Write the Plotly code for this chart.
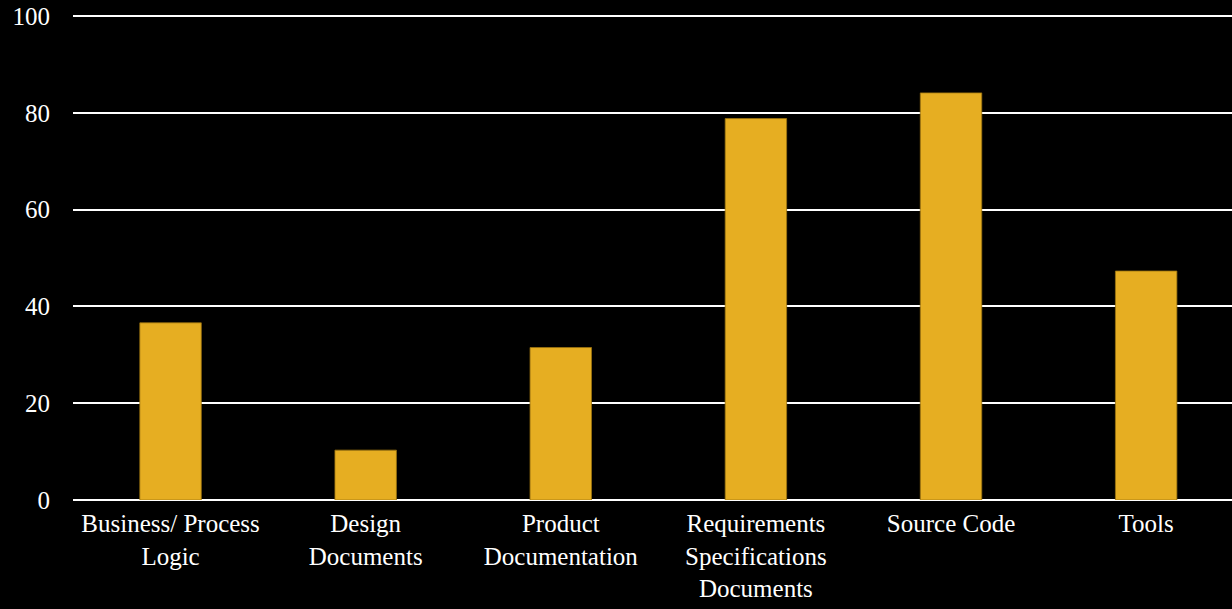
import plotly.graph_objects as go

categories = ["Business/ Process<br>Logic", "Design<br>Documents", "Product<br>Documentation",
              "Requirements<br>Specifications<br>Documents", "Source Code", "Tools"]
values = [36.6, 10.3, 31.5, 78.8, 84.1, 47.3]
y_ticks = [0, 20, 40, 60, 80, 100]

bar_color = "#E6AE22"
font_family = "Liberation Serif"

fig = go.Figure(go.Bar(
    x=categories, y=values,
    marker=dict(color=bar_color, line=dict(color="#9C7410", width=0.8)),
))

fig.update_layout(
    width=1232, height=609,
    margin=dict(l=73, r=0, t=14, b=109),
    paper_bgcolor="black", plot_bgcolor="black",
    font=dict(family=font_family, size=25, color="white"),
    bargap=0.685,
    showlegend=False,
)
fig.update_yaxes(
    range=[0, 100.4], tickvals=y_ticks, showgrid=True, gridcolor="white", gridwidth=1.8,
    zeroline=True, zerolinecolor="white", zerolinewidth=1.8,
    ticklabelstandoff=22, showline=False, automargin=False,
)
fig.update_xaxes(showgrid=False, showline=False, ticklabelstandoff=6, tickangle=0,
                 range=[-0.5, 5.44], automargin=False)

fig.write_html("out.html")
